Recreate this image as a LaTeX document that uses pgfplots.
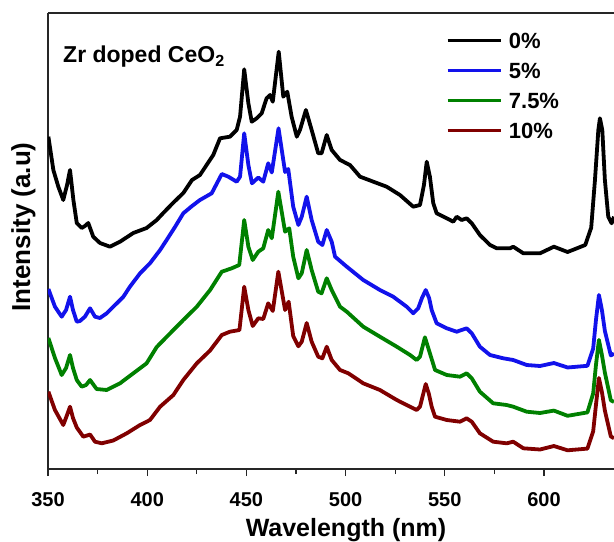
\documentclass[border=0pt]{standalone}
\usepackage{fontspec}
\setmainfont{Liberation Sans}
\usepackage{pgfplots}
\pgfplotsset{compat=1.18}
\usetikzlibrary{calc}

\definecolor{czero}{RGB}{0,0,0}
\definecolor{cfive}{RGB}{18,18,235}
\definecolor{cseven}{RGB}{0,128,0}
\definecolor{cten}{RGB}{128,0,0}

\begin{document}
\begin{tikzpicture}
\begin{axis}[
  scale only axis, width=566pt, height=456pt,
  xmin=350, xmax=635.3, ymin=0, ymax=456,
  axis x line*=box, axis y line*=left,
  axis line style={line width=1.2pt, black!85},
  xtick={350,400,450,500,550,600}, minor x tick num=1,
  xtick pos=left, ytick=\empty,
  tick align=outside, major tick length=7pt, minor tick length=5pt,
  tick style={line width=1.2pt, black!85},
  /pgf/number format/assume math mode=true,
  xticklabel style={font=\fontsize{20}{24}\selectfont\bfseries, anchor=base, yshift=-30pt},
  xlabel={Wavelength (nm)},
  ylabel={Intensity (a.u)},
  xlabel style={font=\fontsize{25}{30}\selectfont\bfseries, at={(0.5265,-0.149)}, anchor=base},
  ylabel style={font=\fontsize{26}{30}\selectfont\bfseries, at={(-0.0318,0.531)}, anchor=base},
  legend style={draw=none, fill=none, at={(0.703,0.841)}, anchor=west, inner sep=0pt,
    font=\fontsize{22}{26}\selectfont\bfseries, row sep=14pt, column sep=7pt,
    nodes={inner sep=0pt, text height=16pt, text depth=0pt}},
  legend cell align=left,
  legend image code/.code={\draw[line width=2.8pt] (0pt,0pt) -- (53pt,0pt);},
  every axis plot/.append style={line width=3.8pt, line join=round},
]
\coordinate (sw) at (rel axis cs:0,0);
\coordinate (ne) at (rel axis cs:1,1);

% 0 % Zr
\addplot[czero] coordinates {
(350.2,332.3) (352.7,299) (355.2,282.3) (357.7,269) (359.6,284) (361.1,299)
(362.8,269) (364.5,246) (367.0,241) (368.6,243) (370.3,246) (372.8,232.3)
(376.2,226) (381.2,222.3) (386.3,227.3) (393.0,236) (399.7,241) (404.8,249)
(408.1,256) (413.0,266) (418.2,276) (422.6,289) (426.6,294) (433.3,314)
(436.7,330.7) (441.7,332.3) (445.1,339) (446.8,352.3) (448.9,399.7) (451.0,365.7)
(452.7,347.3) (455.2,350.7) (457.7,355.7) (460.2,370.7) (461.9,374) (463.3,367.3)
(466.3,417.3) (468.6,372.3) (470.6,377.3) (472.8,352.3) (475.4,332.3) (477.0,339)
(480.0,359) (482.9,339) (486.2,315.7) (487.9,315.7) (490.5,334) (493.0,319)
(497.2,309) (502.2,304) (507.3,292.3) (514.0,287.3) (520.7,282.3) (527.4,274)
(534.1,262.3) (537.5,264) (539.5,284) (540.9,307.3) (542.5,292.3) (544.2,265.7)
(545.9,255.7) (551.0,250.7) (554.3,247.3) (556.0,252.3) (558.5,249) (561.0,250.7)
(563.6,245.7) (567.7,234) (572.8,224) (576.2,220.7) (582.9,220.7) (584.5,222.3)
(589.6,215.7) (598.0,215.7) (605.0,222.3) (611.9,217) (620.8,224) (623.8,241.3)
(625.7,289) (627.4,339) (628.2,350.7) (629.4,339) (630.7,289) (632.4,252.3)
(634.1,245.7) (635.3,252.3)
};
\addlegendentry{0\%}

% 5 % Zr
\addplot[cfive] coordinates {
(350.2,180) (353.5,162.3) (356.9,152.3) (359.1,159) (361.1,172.3) (362.6,159)
(364.5,147.3) (366.1,148) (368.6,152.3) (371.2,160.7) (373.7,152.3) (376.2,151)
(379.6,155.7) (383.8,164) (388.0,172.3) (391.3,182.3) (396.4,195.7) (401.4,205.7)
(406.5,219) (409.8,229) (414.0,242) (418.2,255.7) (422.6,263) (426.6,269)
(432.5,275.7) (437.6,295) (440.9,292.3) (445.1,287.3) (446.8,292.3) (448.9,335.7)
(451.0,304) (452.8,285.7) (456.0,291.5) (458.5,287.3) (461.0,305.7) (462.8,296.5)
(466.2,340.7) (469.5,297) (471.1,300) (473.6,262.3) (476.2,244) (477.9,252.3)
(480.4,272.3) (482.9,249) (486.2,227.3) (488.3,224) (490.5,239) (493.0,227.3)
(494.7,212.3) (500.6,202.3) (508.9,189) (517.3,179) (524.0,172.3) (530.8,162.3)
(534.1,155.7) (536.6,160.7) (538.5,171) (540.4,179) (542.1,171) (543.4,159)
(545.9,145.7) (551.0,140.7) (556.0,137.3) (561.0,140.7) (563.6,135.7) (567.7,122.3)
(572.8,114) (579.5,110.7) (584.5,109) (591.3,104) (598.0,103) (605.0,106)
(611.9,101.5) (621.9,103.2) (624.8,120.5) (626.2,149) (627.7,174) (629.2,159)
(630.7,138) (633.7,113.6) (635.3,115.3)
};
\addlegendentry{5\%}

% 7.5 % Zr
\addplot[cseven] coordinates {
(350.2,131) (353.5,111) (356.9,94) (359.1,101) (361.1,114) (362.6,101)
(364.5,89) (367.0,82.3) (369.2,84) (371.2,89) (374.5,80) (379.6,79)
(386.3,85.7) (393.0,95.7) (399.7,105.7) (404.8,122) (413.2,139) (418.2,149)
(425.0,162.3) (431.7,179) (437.6,197.3) (442.6,200.7) (446.4,204) (448.9,249)
(451.0,222.3) (453.2,209) (456.0,217.3) (458.5,220.7) (461.0,239) (462.8,230.7)
(466.1,277.3) (469.5,237.3) (471.6,240.7) (473.6,212.3) (476.2,190.7) (477.9,195.7)
(480.4,219) (482.9,199) (486.2,177.3) (487.9,175.7) (490.5,190.7) (493.0,179)
(497.2,162.3) (500.6,157.3) (508.9,142.3) (517.3,132.3) (525.8,122.3) (532.5,114)
(535.8,109) (537.5,112.3) (540.0,131.7) (542.5,115.7) (545.1,99) (551.0,94)
(557.7,92.3) (561.0,95.7) (563.6,90.7) (567.7,77.3) (574.4,65.7) (581.2,64)
(584.5,62.3) (591.3,57.3) (598.0,56) (605.0,58.4) (611.9,53.2) (621.9,56.6)
(624.8,75.6) (626.2,104) (627.7,129.1) (629.2,114) (630.7,96.3) (633.7,68.7)
(635.3,67)
};
\addlegendentry{7.5\%}

% 10 % Zr
\addplot[cten] coordinates {
(350.2,77.3) (353.5,59) (357.7,44) (359.6,54) (361.1,62.3) (362.6,51)
(364.5,41.5) (367.8,32.3) (371.2,34.5) (373.7,27.3) (377.1,25.7) (382.9,28.5)
(389.7,35.7) (396.4,44) (401.4,49) (406.5,62.3) (413.2,74) (418.2,89)
(425.0,105.7) (431.7,118.5) (437.6,134) (441.7,137.3) (446.5,139) (448.9,182.3)
(451.0,159) (453.2,143) (456.0,150.7) (458.5,150) (461.0,165.7) (463.3,158)
(466.1,197.3) (469.5,159) (471.3,167.3) (473.6,133) (476.2,122.7) (477.9,127.3)
(480.4,146) (482.9,127.3) (486.2,112.3) (488.3,110.7) (490.5,122.3) (493.0,109)
(497.2,99) (501.4,95.7) (508.9,85.7) (517.3,79) (525.8,69) (532.5,62.3)
(535.8,59) (537.5,62.3) (539.0,74) (540.4,85) (542.0,75) (543.4,62.3)
(545.1,52.3) (551.0,49) (557.7,47.3) (561.0,50.7) (563.6,47.3) (567.7,35.7)
(574.4,27.3) (581.2,25.7) (584.5,27.3) (589.6,20.7) (598.0,19.5) (605.0,23)
(611.9,18.7) (621.9,20.4) (624.8,37.7) (626.2,64) (627.7,91) (629.2,77)
(630.7,58.4) (633.7,32.5) (635.3,30.8)
};
\addlegendentry{10\%}

\node[anchor=base west, inner sep=0pt, font=\fontsize{23}{27}\selectfont\bfseries]
  at (axis description cs:0.0265,0.8904) {Zr doped CeO\textsubscript{2}};
\end{axis}
\pgfresetboundingbox
\path ($(sw)+(-48pt,-72pt)$) rectangle ($(ne)+(0pt,13pt)$);
\end{tikzpicture}
\end{document}
